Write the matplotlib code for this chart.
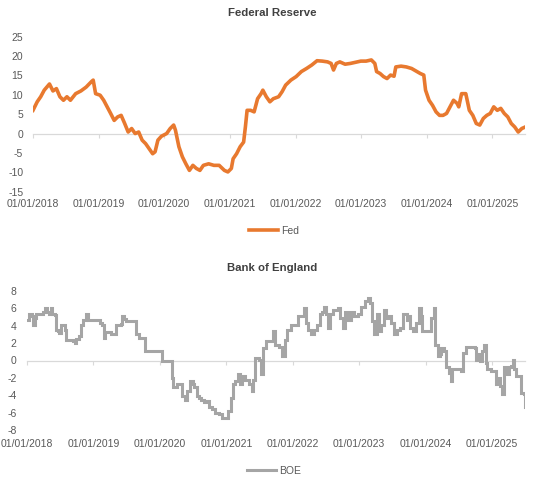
import numpy as np
import pandas as pd
import matplotlib
matplotlib.use("Agg")
import matplotlib.pyplot as plt
import matplotlib.dates as mdates

plt.rcParams['font.family'] = ['Liberation Sans', 'DejaVu Sans']

# ---- Data (years elapsed since 01/01/2018) ----
fed_t = [0.000, 0.064, 0.117, 0.171, 0.251, 0.304, 0.357, 0.410, 0.464, 0.517,
         0.570, 0.650, 0.730, 0.810, 0.890, 0.917, 0.954, 1.023, 1.077, 1.130,
         1.183, 1.237, 1.290, 1.343, 1.397, 1.450, 1.503, 1.557, 1.610, 1.663,
         1.716, 1.770, 1.823, 1.860, 1.903, 1.956, 2.036, 2.090, 2.143, 2.170,
         2.223, 2.276, 2.329, 2.383, 2.436, 2.489, 2.543, 2.596, 2.676, 2.756,
         2.836, 2.916, 2.969, 3.022, 3.049, 3.102, 3.156, 3.209, 3.236, 3.262,
         3.316, 3.369, 3.422, 3.475, 3.502, 3.555, 3.609, 3.662, 3.742, 3.795,
         3.849, 3.929, 4.009, 4.089, 4.168, 4.248, 4.328, 4.408, 4.488, 4.542,
         4.579, 4.622, 4.675, 4.755, 4.835, 4.915, 4.995, 5.075, 5.155, 5.208,
         5.235, 5.288, 5.341, 5.394, 5.448, 5.501, 5.528, 5.608, 5.688, 5.768,
         5.848, 5.901, 5.954, 5.981, 6.034, 6.087, 6.141, 6.194, 6.247, 6.301,
         6.354, 6.407, 6.461, 6.487, 6.530, 6.594, 6.648, 6.701, 6.754, 6.807,
         6.861, 6.914, 6.967, 7.020, 7.074, 7.127, 7.180, 7.234, 7.287, 7.340,
         7.393, 7.447, 7.500]
fed_v = [6.0, 8.2, 9.5, 11.2, 12.8, 11.0, 11.6, 9.5, 8.6, 9.5,
         8.6, 10.3, 11.0, 12.0, 13.4, 13.8, 10.3, 9.9, 8.6, 6.9,
         5.2, 3.4, 4.3, 4.7, 2.6, 0.4, 1.3, 0.0, 0.4, -1.7,
         -2.6, -3.9, -5.2, -4.7, -1.7, -0.7, 0.0, 1.3, 2.2, 0.9,
         -3.4, -6.0, -7.8, -9.5, -8.2, -9.0, -9.5, -8.2, -7.8, -8.2,
         -8.2, -9.5, -9.9, -9.0, -6.5, -5.2, -3.4, -2.2, 1.7, 6.0,
         6.0, 5.6, 9.0, 10.3, 11.2, 9.5, 8.2, 9.0, 9.5, 10.8,
         12.5, 13.8, 14.7, 16.0, 16.8, 17.7, 18.8, 18.7, 18.5, 18.1,
         16.4, 18.1, 18.5, 17.9, 18.1, 18.4, 18.7, 18.7, 19.0, 18.1,
         16.0, 15.5, 14.7, 14.2, 15.1, 14.8, 17.2, 17.4, 17.2, 16.8,
         16.0, 15.5, 15.1, 11.2, 8.6, 7.3, 5.6, 4.7, 4.7, 5.2,
         6.9, 8.6, 7.8, 6.9, 10.3, 10.3, 6.0, 4.7, 2.6, 2.2,
         3.9, 4.7, 5.2, 6.9, 6.0, 6.5, 5.2, 4.3, 2.6, 1.7,
         0.4, 1.3, 1.7]

boe_t = [0.000, 0.037, 0.074, 0.090, 0.116, 0.143, 0.195, 0.248, 0.275, 0.301,
         0.328, 0.354, 0.380, 0.417, 0.433, 0.460, 0.486, 0.512, 0.549, 0.565,
         0.592, 0.644, 0.697, 0.724, 0.740, 0.777, 0.814, 0.845, 0.882, 0.919,
         1.014, 1.067, 1.094, 1.130, 1.152, 1.173, 1.226, 1.268, 1.321, 1.347,
         1.410, 1.437, 1.463, 1.490, 1.622, 1.648, 1.690, 1.754, 1.780, 1.992,
         2.029, 2.150, 2.176, 2.203, 2.256, 2.309, 2.335, 2.372, 2.414, 2.451,
         2.493, 2.520, 2.557, 2.588, 2.625, 2.662, 2.705, 2.747, 2.784, 2.837,
         2.890, 2.942, 2.995, 3.032, 3.064, 3.101, 3.138, 3.170, 3.207, 3.233,
         3.286, 3.339, 3.381, 3.402, 3.434, 3.497, 3.524, 3.550, 3.592, 3.656,
         3.698, 3.735, 3.788, 3.840, 3.877, 3.920, 3.973, 4.052, 4.078, 4.131,
         4.163, 4.194, 4.237, 4.279, 4.316, 4.369, 4.406, 4.448, 4.474, 4.501,
         4.527, 4.554, 4.606, 4.686, 4.712, 4.754, 4.791, 4.828, 4.871, 4.923,
         4.976, 5.029, 5.082, 5.135, 5.161, 5.187, 5.230, 5.267, 5.293, 5.336,
         5.372, 5.409, 5.441, 5.478, 5.531, 5.568, 5.610, 5.663, 5.716, 5.742,
         5.769, 5.811, 5.848, 5.901, 5.927, 5.953, 5.980, 6.059, 6.086, 6.123,
         6.149, 6.181, 6.218, 6.233, 6.270, 6.307, 6.350, 6.376, 6.403, 6.508,
         6.535, 6.561, 6.603, 6.667, 6.746, 6.762, 6.799, 6.825, 6.852, 6.878,
         6.904, 6.931, 6.984, 7.037, 7.063, 7.089, 7.116, 7.153, 7.184, 7.221,
         7.258, 7.290, 7.311, 7.332, 7.364, 7.406, 7.433, 7.486, 7.500]
boe_v = [4.7, 5.3, 5.1, 4.1, 4.9, 5.4, 5.4, 5.6, 6.0, 5.6,
         5.3, 6.0, 5.3, 5.2, 3.5, 3.4, 3.2, 4.1, 4.1, 3.5,
         2.4, 2.4, 2.2, 2.0, 2.5, 2.8, 4.1, 4.7, 5.3, 4.7,
         4.7, 4.7, 4.3, 4.1, 2.6, 3.3, 3.3, 3.0, 3.0, 4.1,
         4.2, 5.1, 4.8, 4.5, 4.5, 3.0, 2.6, 2.6, 1.1, 1.1,
         0.0, 0.0, -2.0, -3.1, -2.7, -2.7, -4.1, -4.5, -3.5, -2.4,
         -2.7, -3.1, -4.1, -4.3, -4.5, -4.8, -4.7, -5.4, -5.6, -6.0,
         -6.2, -6.6, -6.6, -5.8, -4.3, -2.7, -2.4, -1.6, -2.7, -1.8,
         -2.2, -2.7, -3.5, -2.2, 0.3, 0.1, -1.6, 1.4, 2.2, 2.2,
         3.4, 1.8, 1.6, 0.5, 2.4, 3.5, 4.1, 4.1, 5.1, 5.1,
         6.0, 4.3, 3.5, 3.0, 3.5, 4.1, 5.3, 5.6, 6.2, 5.3,
         3.7, 5.4, 5.8, 6.0, 4.9, 3.7, 5.6, 4.7, 5.6, 5.1,
         5.4, 6.2, 6.8, 7.2, 6.6, 4.5, 3.0, 5.3, 3.4, 4.1,
         5.8, 4.9, 5.1, 4.3, 3.0, 3.5, 3.7, 5.3, 4.7, 5.1,
         3.7, 3.4, 4.3, 6.0, 5.1, 3.4, 3.4, 3.4, 4.9, 6.0,
         1.8, 0.5, 0.7, 1.4, 1.1, -0.8, -1.4, -2.4, -1.0, -1.0,
         -1.2, 0.9, 1.6, 1.5, 1.4, 0.1, 0.7, -0.1, 1.1, 1.8,
         -0.3, -1.0, -1.2, -1.2, -2.7, -2.0, -2.9, -3.9, -0.8, -1.6,
         -0.8, -0.6, 0.1, -1.0, -1.8, -1.8, -3.7, -3.9, -5.4]

year_ticks = ['2018-01-01', '2019-01-01', '2020-01-01', '2021-01-01',
              '2022-01-01', '2023-01-01', '2024-01-01', '2025-01-01']
fed_yticks = [-15, -10, -5, 0, 5, 10, 15, 20, 25]
boe_yticks = [-8, -6, -4, -2, 0, 2, 4, 6, 8]

start = pd.Timestamp('2018-01-01')
end = pd.Timestamp('2025-07-01')


def to_num(t):
    d = start + pd.to_timedelta(np.array(t) * 365.25, unit='D')
    return mdates.date2num(d.to_pydatetime())


fig = plt.figure(figsize=(5.49, 4.90), dpi=100)
W, H = 549, 490

TICK_COLOR = '#595959'
ZERO_COLOR = '#D9D9D9'
FS = 7.5


def make_axes(rect_px, t, v, color, lw, yticks, label, title, title_y, leg_y,
              ypad, xpad, steps):
    l, r, top, bot = rect_px
    ax = fig.add_axes([l / W, 1 - bot / H, (r - l) / W, (bot - top) / H])
    x = to_num(t)
    if steps:
        ax.plot(x, v, color=color, lw=lw, drawstyle='steps-post', label=label,
                solid_joinstyle='miter')
    else:
        ax.plot(x, v, color=color, lw=lw, label=label, solid_joinstyle='round')
    ax.set_xlim(mdates.date2num(start), mdates.date2num(end))
    ax.set_ylim(yticks[0], yticks[-1])
    ax.set_yticks(yticks)
    ax.set_yticklabels([str(y) for y in yticks])
    for s in ['top', 'right', 'left']:
        ax.spines[s].set_visible(False)
    ax.spines['bottom'].set_position(('data', 0))
    ax.spines['bottom'].set_color(ZERO_COLOR)
    ax.spines['bottom'].set_linewidth(0.9)
    ax.spines['bottom'].set_zorder(0)
    tick_pos = mdates.date2num(pd.to_datetime(year_ticks).to_pydatetime())
    ax.set_xticks(tick_pos)
    ax.tick_params(axis='x', direction='out', length=3, width=0.8,
                   color=ZERO_COLOR, labelbottom=False)
    ax.tick_params(axis='y', length=0, pad=ypad, labelsize=FS,
                   labelcolor=TICK_COLOR)
    sec = ax.secondary_xaxis('bottom')
    sec.set_xticks(tick_pos)
    sec.xaxis.set_major_formatter(mdates.DateFormatter('%d/%m/%Y'))
    sec.tick_params(length=0, pad=xpad, labelsize=FS, labelcolor=TICK_COLOR)
    sec.spines['bottom'].set_visible(False)
    fig.text(272 / W, 1 - title_y / H, title, ha='center', va='center',
             fontsize=8.2, fontweight='bold', color='#404040')
    ax.legend(loc='center', bbox_to_anchor=(274 / W, 1 - leg_y / H),
              bbox_transform=fig.transFigure, frameon=False, fontsize=FS,
              handlelength=2.8, handletextpad=0.3, labelcolor=TICK_COLOR)
    return ax


make_axes((33, 525, 36.7, 191.7), fed_t, fed_v, '#E8792F', 2.6, fed_yticks,
          'Fed', 'Federal Reserve', 13, 231, 7, 5, False)
make_axes((27, 525, 291, 430), boe_t, boe_v, '#A5A5A5', 2.2, boe_yticks,
          'BOE', 'Bank of England', 268, 470.5, 7.5, 6.5, True)

fig.savefig('out.png', dpi=100, facecolor='white')
